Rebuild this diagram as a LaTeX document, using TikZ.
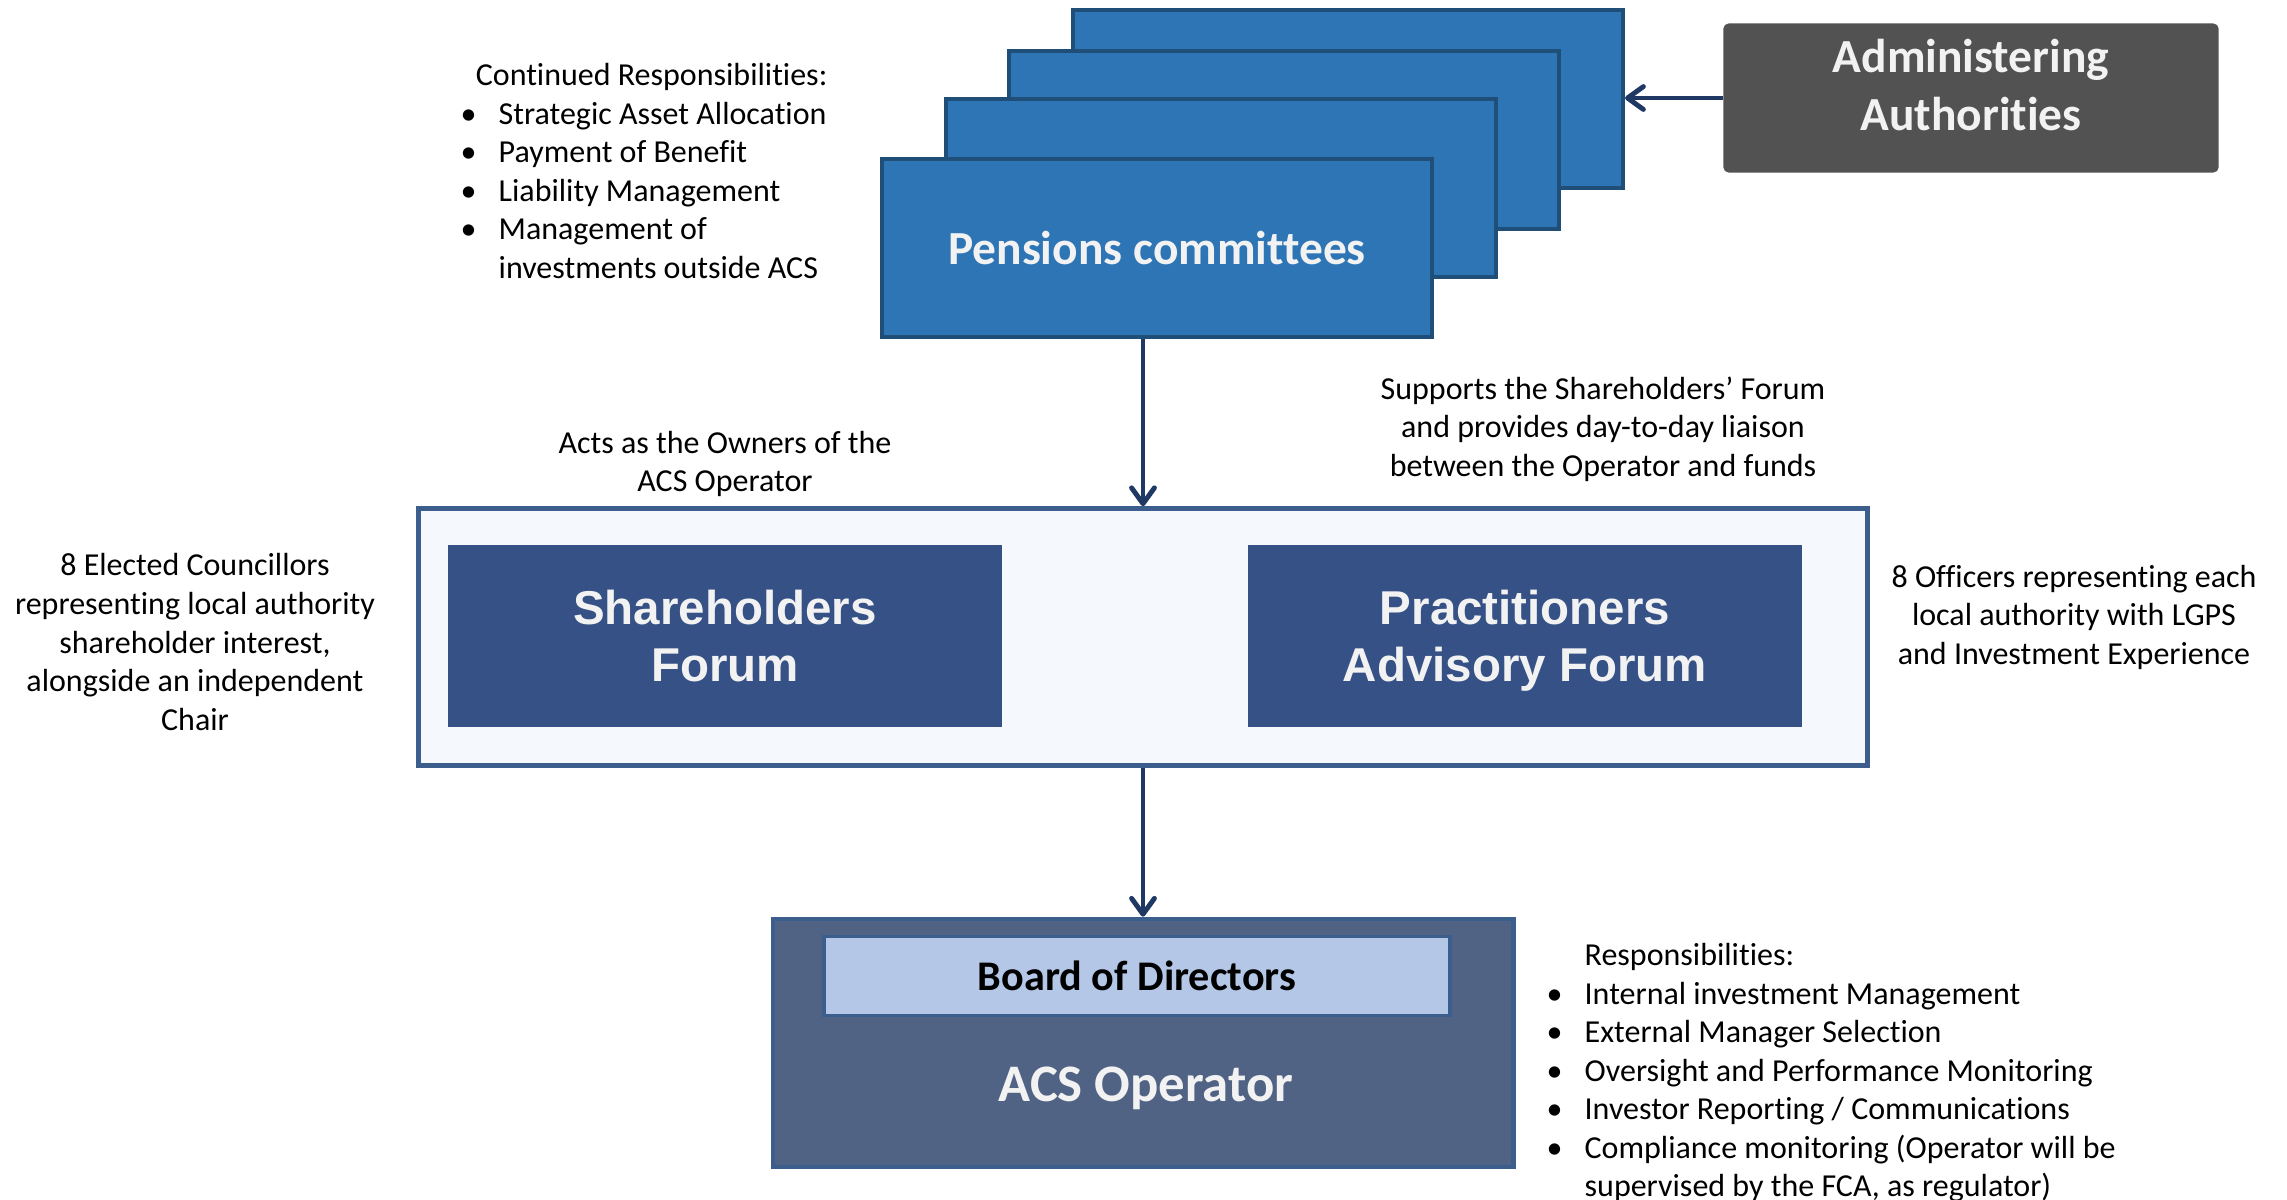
\documentclass[tikz,border=0pt]{standalone}
\usepackage{fontspec}
\setmainfont{Carlito}[Ligatures={TeX,NoCommon}]
\newfontfamily\arialfont{Liberation Sans}
\usetikzlibrary{arrows.meta}

\definecolor{pcblue}{HTML}{2E75B6}
\definecolor{pcedge}{HTML}{1F4E79}
\definecolor{admgray}{HTML}{525252}
\definecolor{edgeblue}{HTML}{3B5E8C}
\definecolor{forumfill}{HTML}{F5F8FC}
\definecolor{forumblue}{HTML}{365186}
\definecolor{opfill}{HTML}{506385}
\definecolor{boardfill}{HTML}{B4C7E7}
\definecolor{arrowcol}{HTML}{1F3864}
\definecolor{boxtext}{HTML}{F2F2F2}

% bullet with hanging text
\newcommand{\bulletitem}[1]{\makebox[10.8pt][l]{\textbullet}#1}

\begin{document}
\begin{tikzpicture}[x=0.01cm,y=-0.01cm,
    pcbox/.style={draw=pcedge,fill=pcblue,line width=1.1pt,minimum width=5.5cm,minimum height=1.78cm,inner sep=0pt},
    boxlabel/.style={text=boxtext,align=center,inner sep=0pt,font=\bfseries\fontsize{13.5}{16.5}\selectfont},
    forumbox/.style={fill=forumblue,draw=forumblue,minimum width=5.52cm,minimum height=1.8cm,text=boxtext,align=center,
        text depth=0pt,font=\arialfont\bfseries\fontsize{13.5}{16.2}\selectfont},
    note/.style={font=\fontsize{9.1}{10.95}\selectfont,align=center,inner sep=0pt},
    arr/.style={draw=arrowcol,line width=1.4pt,-{Straight Barb[length=4.5pt,width=6.5pt,round]}}]
    \useasboundingbox (0,0) rectangle (2287,1200);

    % stack of committees, back to front
    \foreach \dx/\dy [count=\k] in {191/149,127/108,64/60}
        \node[pcbox] (pc\k) at (1157+\dx,248-\dy) {};
    \node[pcbox,boxlabel] (pc) at (1157,248) {Pensions committees};

    \node[fill=admgray,rounded corners=1.5pt,minimum width=4.95cm,minimum height=1.49cm] (admin) at (1971,98) {};
    \node[boxlabel] (admintxt) at (1971,85) {Administering\\Authorities};
    \draw[arr] (admin.west) -- (admin.west -| pc1.east);

    \node[note,align=left,anchor=west] (contlist) at (460,171) {\hspace*{4.3pt}Continued Responsibilities:\\
        \bulletitem{Strategic Asset Allocation}\\
        \bulletitem{Payment of Benefit}\\
        \bulletitem{Liability Management}\\
        \bulletitem{Management of}\\
        \hspace*{10.8pt}investments outside ACS};

    % forums
    \node[draw=edgeblue,fill=forumfill,line width=1.3pt,minimum width=14.48cm,minimum height=2.57cm] (forum) at (1143,637) {};
    \node[forumbox] (shf) at (725,636) {Shareholders\\Forum};
    \node[forumbox] (paf) at (1525,636) {Practitioners\\Advisory Forum};
    \draw[arr] (pc.south -| forum.north) -- (forum.north);

    \node[note] (owners) at (725,464) {Acts as the Owners of the\\ACS Operator};
    \node[note] (support) at (1603,429) {Supports the Shareholders' Forum\\and provides day-to-day liaison\\between the Operator and funds};
    \node[note] (councillors) at (195,642) {8 Elected Councillors\\representing local authority\\shareholder interest,\\alongside an independent\\Chair};
    \node[note] (officers) at (2074,617) {8 Officers representing each\\local authority with LGPS\\and Investment Experience};

    % operator
    \node[draw=edgeblue,fill=opfill,line width=1.3pt,minimum width=7.4cm,minimum height=2.48cm] (acs) at (1143,1043) {};
    \node[draw=edgeblue,fill=boardfill,line width=1.1pt,minimum width=6.26cm,minimum height=0.79cm,
        font=\bfseries\fontsize{12}{14}\selectfont] (board) at (1137,976) {Board of Directors};
    \node[boxlabel,font=\bfseries\fontsize{15}{18}\selectfont] (acstxt) at (1146,1088) {ACS Operator};
    \draw[arr] (forum.south) -- (acs.north);

    \node[note,align=left,anchor=west] (resp) at (1546,1073) {\hspace*{10.8pt}Responsibilities:\\
        \bulletitem{Internal investment Management}\\
        \bulletitem{External Manager Selection}\\
        \bulletitem{Oversight and Performance Monitoring}\\
        \bulletitem{Investor Reporting / Communications}\\
        \bulletitem{Compliance monitoring (Operator will be}\\
        \hspace*{10.8pt}supervised by the FCA, as regulator)};
\end{tikzpicture}
\end{document}
